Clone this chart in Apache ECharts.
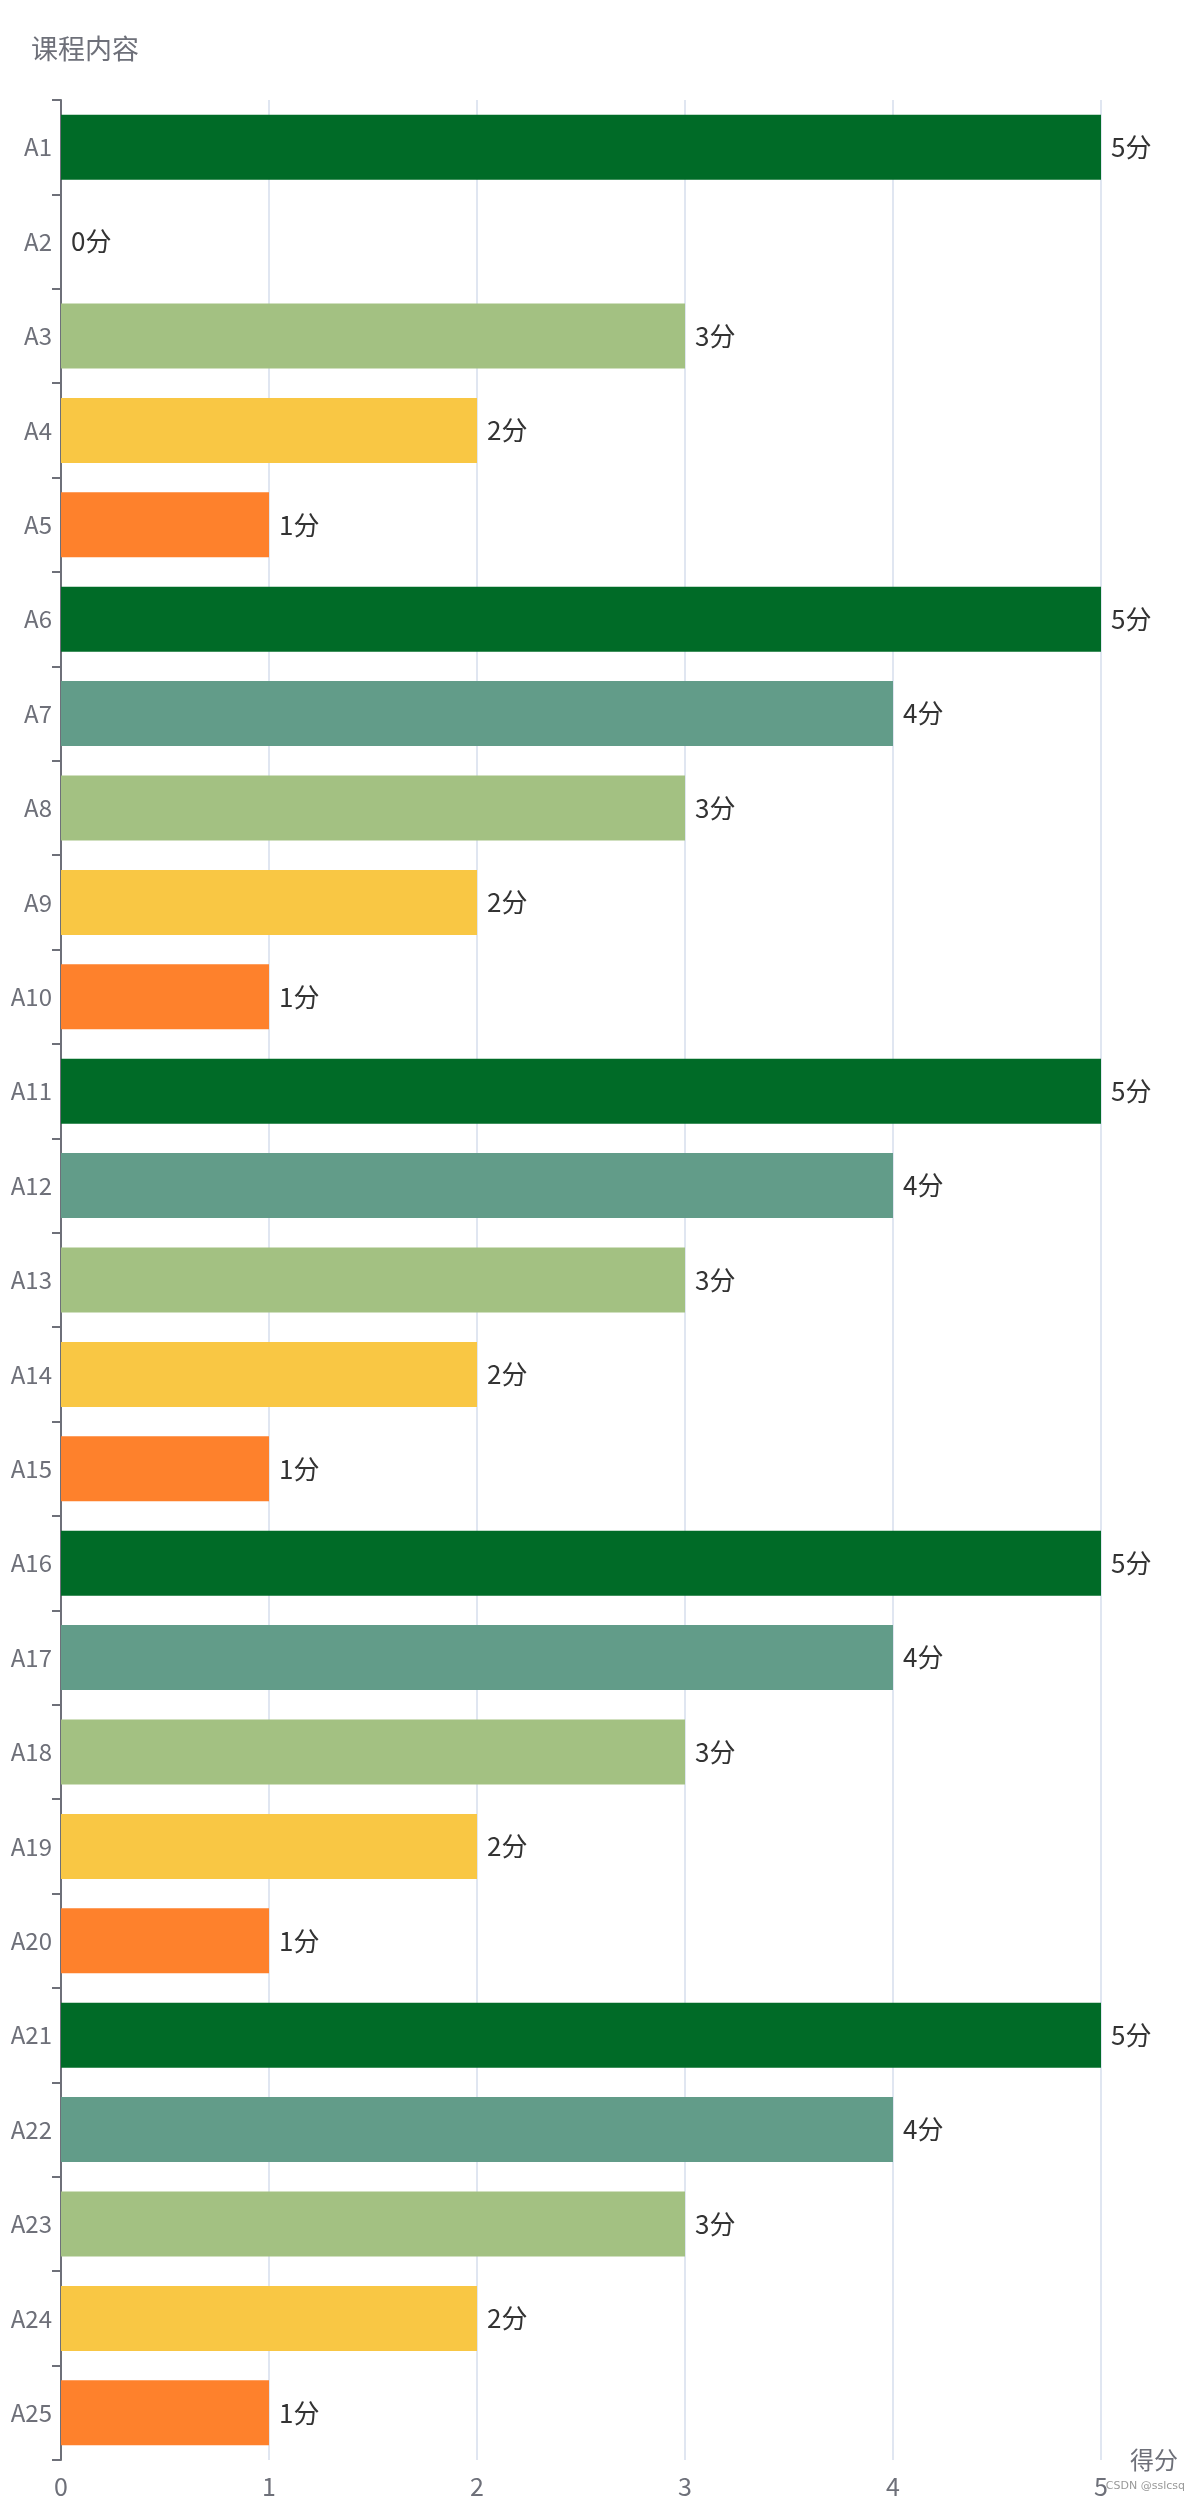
<!DOCTYPE html>
<html>
<head>
<meta charset="utf-8">
<script src="https://cdn.jsdelivr.net/npm/echarts@6/dist/echarts.min.js"></script>
<style>
  html, body { margin: 0; padding: 0; background: #fff; }
  #main { width: 1200px; height: 2500px; }
</style>
</head>
<body>
<div id="main"></div>
<script>
var categories = ['A1','A2','A3','A4','A5','A6','A7','A8','A9','A10','A11','A12','A13',
    'A14','A15','A16','A17','A18','A19','A20','A21','A22','A23','A24','A25'];
var scores = [5,0,3,2,1, 5,4,3,2,1, 5,4,3,2,1, 5,4,3,2,1, 5,4,3,2,1];
// 分数 -> 颜色
var scoreColors = {5:'#006b27', 4:'#629c89', 3:'#a3c182', 2:'#f9c744', 1:'#fe812c', 0:'#fe812c'};
var fontName = 'Noto Sans CJK SC';

var chart = echarts.init(document.getElementById('main'));

var barData = [];
for (var i = 0; i < scores.length; i++) {
    barData.push({
        value: scores[i],
        itemStyle: { color: scoreColors[scores[i]] }
    });
}

var option = {
    backgroundColor: '#fff',
    textStyle: { fontFamily: fontName },
    animation: false,
    grid: {
        left: 61,
        right: 99,
        top: 100,
        bottom: 40
    },
    xAxis: {
        type: 'value',
        min: 0,
        max: 5,
        interval: 1,
        name: '得分',
        nameLocation: 'end',
        nameGap: 29,
        nameTextStyle: { fontSize: 24, color: '#6e7079', fontFamily: fontName, padding: [0, 0, 6, 0] },
        axisLine: { show: false },
        axisTick: { show: false },
        axisLabel: { fontSize: 25, color: '#6e7079', margin: 14, fontFamily: fontName },
        splitLine: { lineStyle: { color: '#e0e6f1', width: 2 } }
    },
    yAxis: {
        type: 'category',
        inverse: true,
        data: categories,
        name: '课程内容',
        nameLocation: 'start',
        nameGap: 38,
        nameTextStyle: { fontSize: 27, color: '#6e7079', fontFamily: fontName, align: 'center', padding: [0, 0, 0, 48] },
        axisLine: { show: true, lineStyle: { color: '#6e7079', width: 2 } },
        axisTick: { show: true, length: 9, lineStyle: { color: '#6e7079', width: 2 } },
        axisLabel: { fontSize: 24, color: '#6e7079', margin: 9, fontFamily: fontName }
    },
    series: [{
        type: 'bar',
        data: barData,
        barWidth: 65,
        label: {
            show: true,
            position: 'right',
            distance: 10,
            fontSize: 26,
            color: '#333',
            fontFamily: fontName,
            formatter: function (p) {
                return p.value + '分';
            }
        }
    }],
    graphic: [{
        type: 'text',
        right: 15,
        bottom: 8,
        style: {
            text: 'CSDN @sslcsq',
            fill: '#999',
            font: '11px "DejaVu Sans"'
        }
    }]
};

chart.setOption(option);
</script>
</body>
</html>
